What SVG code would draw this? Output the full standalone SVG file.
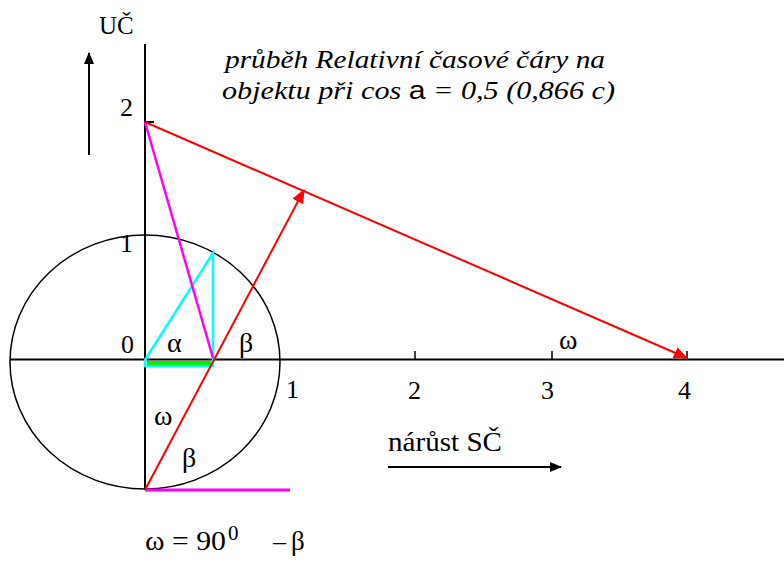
<svg xmlns="http://www.w3.org/2000/svg" width="784" height="563" viewBox="0 0 784 563">
<defs>
<marker id="ar" markerWidth="12" markerHeight="10" refX="11" refY="5" orient="auto" markerUnits="userSpaceOnUse"><path d="M0,0 L12,5 L0,10 z" fill="#000"/></marker>
<marker id="rr" markerWidth="14" markerHeight="12" refX="13" refY="6" orient="auto" markerUnits="userSpaceOnUse"><path d="M0,0 L14,6 L0,12 z" fill="#ff0000"/></marker>
<style>
.t{font-family:"Liberation Serif","Times New Roman",serif;fill:#000}
.i{font-family:"Liberation Serif","Times New Roman",serif;font-style:italic;fill:#000}
.ax{stroke:#000;stroke-width:2;fill:none}
.tk{stroke:#000;stroke-width:1.5}
</style>
</defs>
<g id="axes">
<line class="ax" x1="145" y1="44" x2="145" y2="490"/>
<line class="ax" x1="10" y1="359.5" x2="784" y2="359.5"/>
<line class="ax" x1="145" y1="122" x2="154" y2="122"/>
<line class="tk" x1="415" y1="351" x2="415" y2="359"/>
<line class="tk" x1="552" y1="351" x2="552" y2="359"/>
<line class="tk" x1="687" y1="351" x2="687" y2="359"/>
</g>
<g id="circle"><ellipse cx="145" cy="362" rx="135" ry="127" fill="none" stroke="#000" stroke-width="1.5"/></g>
<g id="triangle">
<polygon points="145,360 213,253 213,366 145,366" fill="none" stroke="#00ffff" stroke-width="2.5"/>
<line x1="147" y1="363" x2="211" y2="363" stroke="#00ee00" stroke-width="4"/>
</g>
<g id="connectors">
<line x1="89" y1="155" x2="89" y2="53" stroke="#000" stroke-width="2" marker-end="url(#ar)"/>
<line x1="388" y1="467" x2="561" y2="467" stroke="#000" stroke-width="2" marker-end="url(#ar)"/>
<line x1="145" y1="122" x2="213" y2="358" stroke="#ff00ff" stroke-width="2.5"/>
<line x1="145" y1="490" x2="290" y2="490" stroke="#ff00ff" stroke-width="3"/>
<line x1="145" y1="122" x2="687" y2="358" stroke="#ff0000" stroke-width="2" marker-end="url(#rr)"/>
<line x1="145" y1="490" x2="304" y2="190" stroke="#ff0000" stroke-width="2" marker-end="url(#rr)"/>
</g>
<g id="labels">
<text class="t" x="99" y="34" font-size="25">UČ</text>
<text class="t" x="120" y="116" font-size="26">2</text>
<text class="t" x="120" y="252" font-size="26">1</text>
<text class="t" x="121" y="353" font-size="26">0</text>
<text class="t" x="286" y="398" font-size="26">1</text>
<text class="t" x="408" y="399" font-size="26">2</text>
<text class="t" x="541" y="399" font-size="26">3</text>
<text class="t" x="678" y="399" font-size="26">4</text>
<text class="t" x="167" y="352" font-size="28">α</text>
<text class="t" x="239" y="352" font-size="28">β</text>
<text class="t" x="154" y="425" font-size="28">ω</text>
<text class="t" x="182" y="467" font-size="28">β</text>
<text class="t" x="559" y="349" font-size="28">ω</text>
<text class="t" x="388" y="451" font-size="27" textLength="114" lengthAdjust="spacingAndGlyphs">nárůst SČ</text>
<text class="t" x="145" y="550" font-size="27" textLength="81" lengthAdjust="spacingAndGlyphs">ω = 90</text>
<text class="t" x="228" y="540" font-size="21">0</text>
<text class="t" x="273" y="550" font-size="26">–</text>
<text class="t" x="291" y="550" font-size="27">β</text>
<text class="i" x="225" y="68" font-size="25" textLength="380" lengthAdjust="spacingAndGlyphs">průběh Relativní časové čáry na</text>
<text class="i" x="222" y="99" font-size="25" textLength="393" lengthAdjust="spacingAndGlyphs">objektu při cos <tspan font-family="Liberation Sans, Arial, sans-serif" font-style="normal">a</tspan> = 0,5 (0,866 c)</text>
</g>
</svg>
